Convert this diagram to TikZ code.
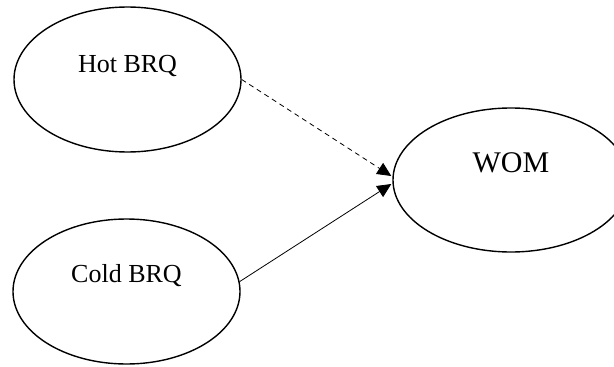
\documentclass[tikz,border=0pt]{standalone}
\usepackage{fontspec}
\setmainfont{Liberation Serif}
\usetikzlibrary{arrows.meta, positioning, shapes.geometric}

\begin{document}
\begin{tikzpicture}[x=1pt, y=-1pt,
    bubble/.style={draw, ellipse, line width=1.4pt, inner sep=0pt, minimum width=227pt, minimum height=145pt},
    lbl/.style={font=\fontsize{26}{30}\selectfont, inner sep=0pt, anchor=base},
    link/.style={line width=0.8pt, -{Triangle[length=14pt, width=13pt]}}]
  \useasboundingbox (0,0) rectangle (614,367);

  \node[bubble] (hot) at (127.5,79.5) {};
  \node[bubble] (cold) at (126.5,291.5) {};
  \node[bubble, minimum width=236pt, minimum height=144pt] (wom) at (511,180) {};

  \node[lbl] (hotlbl) at ([yshift=7.5pt]hot.center) {Hot BRQ};
  \node[lbl] (coldlbl) at ([yshift=9.5pt]cold.center) {Cold BRQ};
  \node[lbl, font=\fontsize{30}{34}\selectfont] (womlbl) at ([yshift=8pt]wom.center) {WOM};

  \coordinate (inhot) at ([shift={(-1,-4)}]wom.west);
  \coordinate (incold) at ([shift={(-1,4)}]wom.west);

  \draw[link, dash pattern=on 5pt off 4pt] (hot.east) -- (inhot);
  \draw[link] (cold.5) -- (incold);
\end{tikzpicture}
\end{document}
